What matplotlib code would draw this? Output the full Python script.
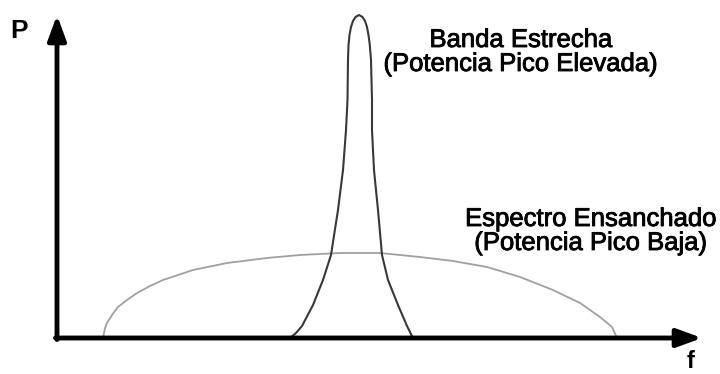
import matplotlib.pyplot as plt
import matplotlib.patheffects as pe

# narrow band curve (pixel x, pixel y)
narrow_x = [290, 296, 302, 313, 323, 331, 338, 343, 346, 347.5, 348, 348.5, 349.5, 351, 353, 355.5, 359,
            362.5, 365, 367, 368.5, 369.8, 371, 372, 372, 374, 378, 382, 388, 398, 407, 413]
narrow_y = [338, 333, 326, 305, 280, 255, 210, 170, 130, 100, 60, 45, 35, 27, 21, 17, 15,
            17, 21, 27, 35, 45, 60, 100, 130, 170, 210, 255, 280, 305, 326, 338]

# spread spectrum curve
wide_x = [103, 105, 107, 112, 118, 127, 137, 150, 163, 193, 227, 267, 300, 340, 380,
          420, 453, 487, 520, 553, 580, 600, 612, 617]
wide_y = [338, 328, 323, 315, 307, 300, 293, 286, 280, 270, 263, 258, 255, 253, 253,
          257, 261, 267, 277, 290, 303, 317, 327, 338]

x0, y0 = 57, 338  # where the axes cross

fig = plt.figure(figsize=(7.2, 3.74), dpi=100)
ax = fig.add_axes([0, 0, 1, 1])
ax.set_xlim(-x0, 720 - x0)
ax.set_ylim(-(374 - y0), y0)
ax.axis('off')

f_n = [x - x0 for x in narrow_x]
p_n = [y0 - y for y in narrow_y]
f_w = [x - x0 for x in wide_x]
p_w = [y0 - y for y in wide_y]

ax.plot(f_w, p_w, color='#a0a0a0', lw=1.3, solid_joinstyle='round')
ax.plot(f_n, p_n, color='#383838', lw=1.5, solid_joinstyle='round')

# axes with arrow heads
arrow = dict(arrowstyle='-|>,head_length=1.5,head_width=0.55', lw=3.5, color='black',
             shrinkA=0, shrinkB=0)
ax.annotate('', xy=(702 - x0, 0), xytext=(-1.5, 0), arrowprops=arrow)
ax.annotate('', xy=(0, y0 - 15), xytext=(0, -1.5), arrowprops=arrow)

ax.text(19 - x0, y0 - 31, 'P', fontsize=19, fontweight='bold', ha='center', va='center',
        family='Liberation Sans')
ax.text(691 - x0, y0 - 361, 'f', fontsize=17, fontweight='bold', ha='center', va='center',
        family='Liberation Sans')

stroke = [pe.withStroke(linewidth=0.6, foreground='black')]
txt = dict(fontsize=18.5, ha='center', va='center', family='Liberation Sans', linespacing=1.0,
           path_effects=stroke)
ax.text(521 - x0, y0 - 52, 'Banda Estrecha\n(Potencia Pico Elevada)', **txt)
ax.text(591 - x0, y0 - 231, 'Espectro Ensanchado\n(Potencia Pico Baja)', **txt)

fig.savefig('out.png', dpi=100)
